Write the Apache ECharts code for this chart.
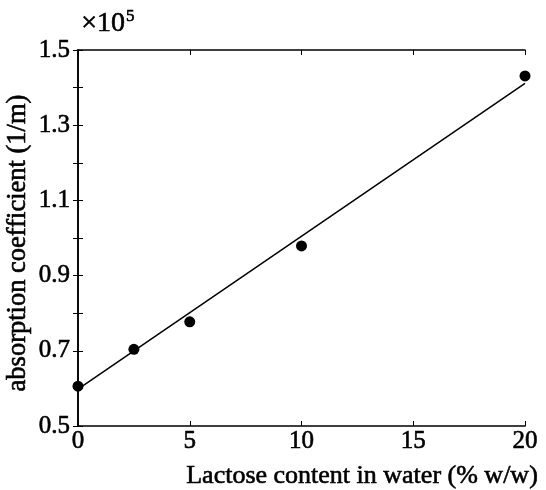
<!DOCTYPE html>
<html>
<head>
<meta charset="utf-8">
<script src="https://cdn.jsdelivr.net/npm/echarts@6/dist/echarts.min.js"></script>
<style>
  html, body { margin: 0; padding: 0; background: #fff; }
  #chart { width: 546px; height: 490px; }
</style>
</head>
<body>
<div id="chart"></div>
<script>
// Measured absorption coefficients (units of 1e5 1/m) vs lactose content
const lactoseContent = [0, 2.5, 5, 10, 20];
const absorption = [0.606, 0.704, 0.777, 0.979, 1.431];

// Straight-line fit through the measurements
const fitX = [0, 20];
const fitY = [0.598, 1.411];

const xTicks = [0, 5, 10, 15, 20];
const yLabelled = [0.5, 0.7, 0.9, 1.1, 1.3, 1.5];

const serif = '"Liberation Serif", "DejaVu Serif", serif';
const ink = '#000';

// Slightly heavier strokes for the serif text
const heavy = { textBorderColor: ink, textBorderWidth: 0.6 };

const chart = echarts.init(document.getElementById('chart'), null, { renderer: 'canvas' });

const frameAxis = {
  axisLine: { show: true, lineStyle: { color: ink, width: 1.6 } },
  axisTick: { show: true, inside: true, length: 5, lineStyle: { color: ink, width: 1 } },
  splitLine: { show: false }
};

chart.setOption({
  animation: false,
  backgroundColor: '#fff',
  grid: { left: 78, right: 21, top: 50, bottom: 64, containLabel: false, outerBoundsMode: 'none' },
  graphic: [{
    type: 'text',
    left: 81,
    top: 8,
    style: {
      text: '{a|×10}{b|5}',
      rich: {
        a: { fontFamily: serif, fontSize: 28, fill: ink, stroke: ink, lineWidth: 0.6, verticalAlign: 'bottom' },
        b: { fontFamily: serif, fontSize: 17, fill: ink, stroke: ink, lineWidth: 0.6, verticalAlign: 'top', padding: [0, 0, 12, 1] }
      }
    }
  }],
  xAxis: [
    Object.assign({
      type: 'value', min: 0, max: 20, interval: 5, position: 'bottom',
      axisLabel: Object.assign({
        fontFamily: serif, fontSize: 25, color: ink, margin: 3,
        formatter: v => (xTicks.includes(v) ? String(v) : '')
      }, heavy),
      name: 'Lactose content in water (% w/w)',
      nameLocation: 'middle',
      nameMoveOverlap: false,
      nameGap: 37,
      nameTextStyle: Object.assign({ fontFamily: serif, fontSize: 26, color: ink, padding: [0, 0, 0, 121] }, heavy)
    }, frameAxis),
    Object.assign({
      type: 'value', min: 0, max: 20, interval: 5, position: 'top',
      axisLabel: { show: false }
    }, frameAxis)
  ],
  yAxis: [
    Object.assign({
      type: 'value', min: 0.5, max: 1.5, interval: 0.1, position: 'left',
      axisLabel: Object.assign({
        fontFamily: serif, fontSize: 25, color: ink, margin: 8,
        formatter: v => {
          const r = Math.round(v * 10) / 10;
          return yLabelled.some(t => Math.abs(t - r) < 1e-6) ? r.toFixed(1) : '';
        }
      }, heavy),
      name: 'absorption coefficient (1/m)',
      nameLocation: 'middle',
      nameMoveOverlap: false,
      nameGap: 46,
      nameTextStyle: Object.assign({ fontFamily: serif, fontSize: 26.5, color: ink, padding: [0, 10, 0, 0] }, heavy)
    }, frameAxis),
    Object.assign({
      type: 'value', min: 0.5, max: 1.5, interval: 0.1, position: 'right',
      axisLabel: { show: false }
    }, frameAxis)
  ],
  series: [
    {
      name: 'fit',
      type: 'line',
      data: fitX.map((x, i) => [x, fitY[i]]),
      showSymbol: false,
      symbol: 'none',
      lineStyle: { color: ink, width: 1.5 },
      z: 2
    },
    {
      name: 'measured',
      type: 'scatter',
      data: lactoseContent.map((x, i) => [x, absorption[i]]),
      symbol: 'circle',
      symbolSize: 11,
      itemStyle: { color: ink, opacity: 1 },
      z: 3
    }
  ]
});
</script>
</body>
</html>
